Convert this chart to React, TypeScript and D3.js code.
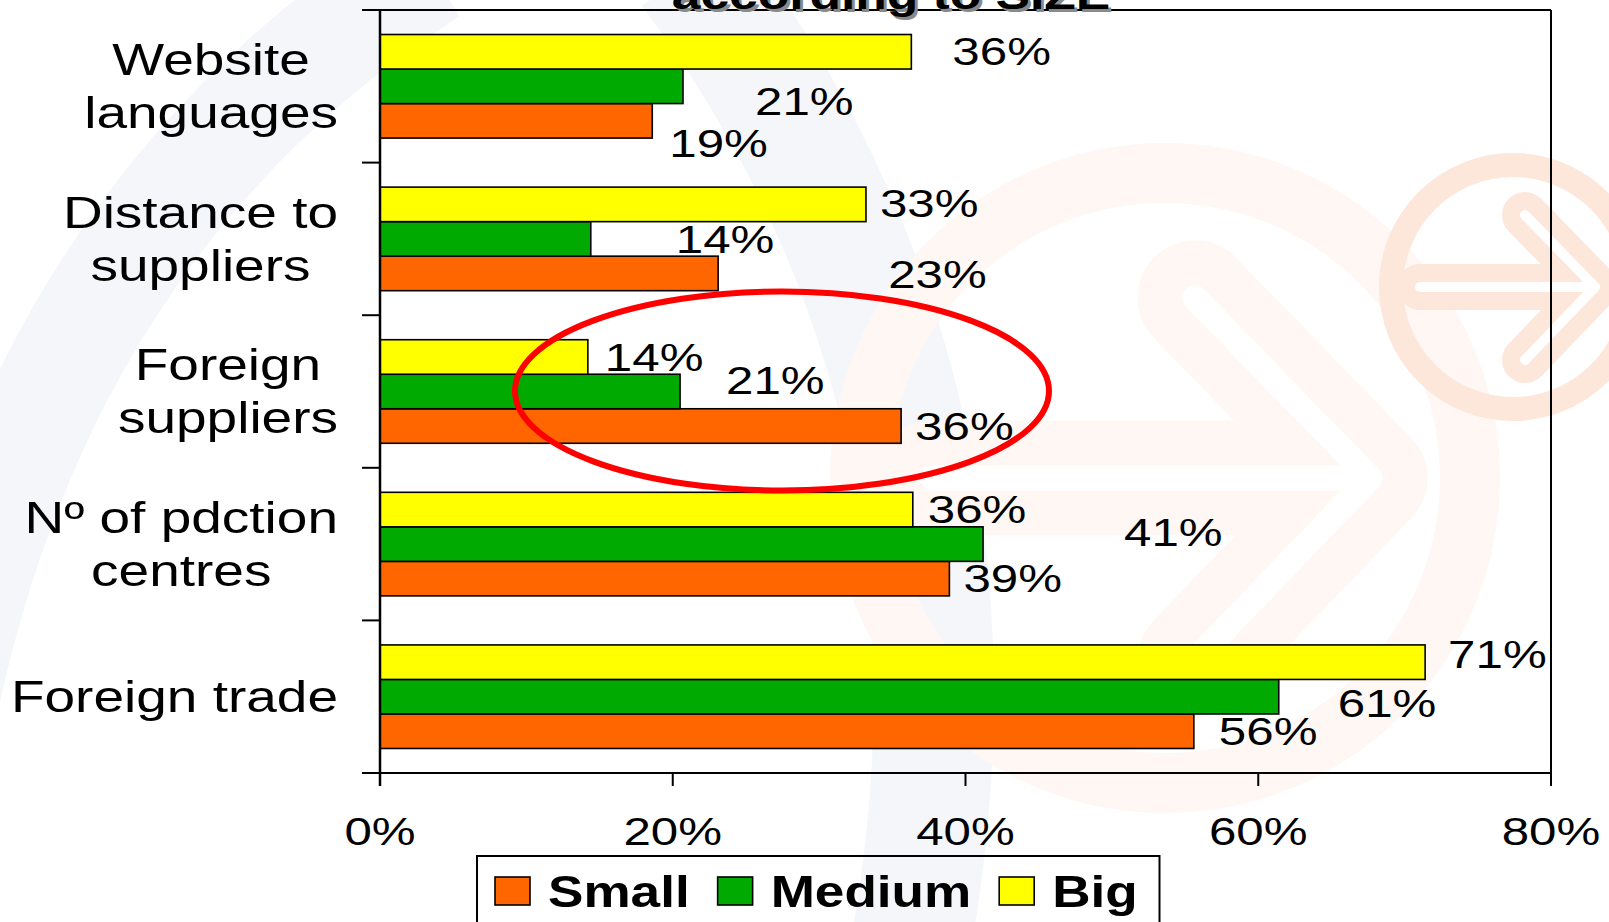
import React, { useEffect, useRef } from "react";
import * as d3 from "d3";

// ---------------- data ----------------
const categories = [
  "Website languages",
  "Distance to suppliers",
  "Foreign suppliers",
  "Nº of pdction centres",
  "Foreign trade",
];
const categoryLines = [
  ["Website", "languages"],
  ["Distance to", "suppliers"],
  ["Foreign", "suppliers"],
  ["Nº of pdction", "centres"],
  ["Foreign trade"],
];
const seriesNames = ["Small", "Medium", "Big"];
const smallValues = [18.6, 23.1, 35.6, 38.9, 55.6];
const mediumValues = [20.7, 14.4, 20.5, 41.2, 61.4];
const bigValues = [36.3, 33.2, 14.2, 36.4, 71.4];
const xTickValues = [0, 20, 40, 60, 80];
const titleText = "according to SIZE";

// manual data-label nudges [dx, dy] in px (as placed in the original)
const smallLabelNudge = [[17, 22], [170, 1], [14, 0], [14, 0], [25, 0]];
const mediumLabelNudge = [[72, 15], [85, 0], [46, -11], [141, -12], [59, 7]];
const bigLabelNudge = [[41, -1], [14, -1], [17, 0], [15, 0], [23, -8]];

const seriesColors: Record<string, string> = {
  Small: "#ff6600",
  Medium: "#00aa00",
  Big: "#ffff00",
};

const W = 1609;
const H = 922;
const FONT = "'Liberation Sans', Arial, Helvetica, sans-serif";

export default function App() {
  const ref = useRef<SVGSVGElement | null>(null);

  useEffect(() => {
    const svg = d3.select(ref.current);
    svg.selectAll("*").remove();

    const left = 380, right = 1551, top = 10, bottom = 773;

    const x = d3.scaleLinear().domain([0, 80]).range([left, right]);
    const y = d3.scaleBand<string>().domain(categories).range([top, bottom]).padding(0);
    const sub = d3
      .scaleBand<string>()
      .domain(["Big", "Medium", "Small"])
      .range([0, y.bandwidth()])
      .paddingInner(0)
      .paddingOuter(0.71);

    // ---------- background watermark ----------
    const bg = svg.append("g");
    bg.append("path")
      .attr("d", "M -60 720 Q 40 220 430 -30")
      .attr("fill", "none")
      .attr("stroke", "#f4f6fa")
      .attr("stroke-width", 110);
    bg.append("path")
      .attr("d", "M 690 -30 Q 1010 400 910 950")
      .attr("fill", "none")
      .attr("stroke", "#f5f6fa")
      .attr("stroke-width", 120);

    const logo = (cx: number, cy: number, s: number, col: string) => {
      const g = bg.append("g");
      g.append("circle")
        .attr("cx", cx).attr("cy", cy).attr("r", 122 * s)
        .attr("fill", "none").attr("stroke", col).attr("stroke-width", 24 * s);
      const shaft = `M ${cx - 93 * s} ${cy} L ${cx + 80 * s} ${cy}`;
      const chev = `M ${cx + 12 * s} ${cy - 72 * s} L ${cx + 82 * s} ${cy} L ${cx + 12 * s} ${cy + 73 * s}`;
      [shaft, chev].forEach((d) => {
        g.append("path").attr("d", d).attr("fill", "none").attr("stroke", col)
          .attr("stroke-width", 46 * s).attr("stroke-linecap", "round").attr("stroke-linejoin", "round");
      });
      [shaft, chev].forEach((d) => {
        g.append("path").attr("d", d).attr("fill", "none").attr("stroke", "#ffffff")
          .attr("stroke-width", 10 * s).attr("stroke-linecap", "round").attr("stroke-linejoin", "round");
      });
    };
    logo(1165, 478, 2.5, "#fef7f3");
    logo(1513, 287, 1, "#fde6da");

    // ---------- bars ----------
    const seriesValues: Record<string, number[]> = {
      Small: smallValues,
      Medium: mediumValues,
      Big: bigValues,
    };
    const nudges: Record<string, number[][]> = {
      Small: smallLabelNudge,
      Medium: mediumLabelNudge,
      Big: bigLabelNudge,
    };

    const barsG = svg.append("g");
    seriesNames.forEach((s) => {
      barsG
        .selectAll(`rect.${s}`)
        .data(seriesValues[s])
        .join("rect")
        .attr("x", x(0))
        .attr("y", (_, i) => (y(categories[i]) as number) + (sub(s) as number))
        .attr("width", (d) => x(d) - x(0))
        .attr("height", sub.bandwidth())
        .attr("fill", seriesColors[s])
        .attr("stroke", "#000")
        .attr("stroke-width", 1.6);
    });

    // ---------- axis frame ----------
    const axG = svg.append("g").attr("stroke", "#000").attr("fill", "none");
    axG.append("line").attr("x1", left).attr("x2", right).attr("y1", top).attr("y2", top).attr("stroke-width", 2);
    axG.append("line").attr("x1", right).attr("x2", right).attr("y1", top).attr("y2", bottom + 13).attr("stroke-width", 2);
    axG.append("line").attr("x1", left).attr("x2", right).attr("y1", bottom).attr("y2", bottom).attr("stroke-width", 2);
    axG.append("line").attr("x1", left).attr("x2", left).attr("y1", top).attr("y2", bottom + 13).attr("stroke-width", 2.5);
    const boundaries = categories.map((c) => y(c) as number).concat([bottom]);
    boundaries.forEach((b) => {
      axG.append("line").attr("x1", left - 18).attr("x2", left).attr("y1", b).attr("y2", b).attr("stroke-width", 2);
    });
    xTickValues.forEach((t) => {
      axG.append("line").attr("x1", x(t)).attr("x2", x(t)).attr("y1", bottom).attr("y2", bottom + 13).attr("stroke-width", 2);
    });

    const stretchText = (
      g: any,
      tx: number,
      ty: number,
      str: string,
      size: number,
      sx: number,
      anchor: string,
      weight = "normal",
      fill = "#000"
    ) =>
      g
        .append("text")
        .attr("transform", `translate(${tx},${ty}) scale(${sx},1)`)
        .attr("text-anchor", anchor)
        .attr("font-family", FONT)
        .attr("font-size", size)
        .attr("font-weight", weight)
        .attr("fill", fill)
        .text(str);

    // x tick labels
    const tickFmt = (v: number) => `${v}%`;
    const tickG = svg.append("g");
    xTickValues.forEach((t) => {
      stretchText(tickG, x(t), 845, tickFmt(t), 38.5, 1.28, "middle");
    });

    // category labels (centered lines, block right-aligned)
    const catSize = 44, catSx = 1.25, lineGap = 53, labelRight = 338;
    const catG = svg.append("g");
    categories.forEach((c, i) => {
      const lines = categoryLines[i];
      const cy = (y(c) as number) + y.bandwidth() / 2;
      const n = lines.length;
      const nodes = lines.map((ln, j) => {
        const base = cy + (j - (n - 1) / 2) * lineGap + 0.35 * catSize;
        return stretchText(catG, 0, base, ln, catSize, catSx, "middle");
      });
      const widths = nodes.map((nd: any) => (nd.node() as SVGTextElement).getComputedTextLength() * catSx);
      const maxW = Math.max(...widths);
      const centerX = labelRight - maxW / 2;
      nodes.forEach((nd: any, j: number) => {
        const base = cy + (j - (n - 1) / 2) * lineGap + 0.35 * catSize;
        nd.attr("transform", `translate(${centerX},${base}) scale(${catSx},1)`);
      });
    });

    // data labels
    const lblG = svg.append("g");
    seriesNames.forEach((s) => {
      seriesValues[s].forEach((v, i) => {
        const [dx, dy] = nudges[s][i];
        const cy = (y(categories[i]) as number) + (sub(s) as number) + sub.bandwidth() / 2;
        stretchText(lblG, x(v) + dx, cy + dy + 0.358 * 38.5, `${Math.round(v)}%`, 38.5, 1.28, "start");
      });
    });

    // red highlight ellipse
    svg.append("ellipse")
      .attr("cx", 782).attr("cy", 391).attr("rx", 267).attr("ry", 99.5)
      .attr("fill", "none").attr("stroke", "#ff0000").attr("stroke-width", 6);

    // title (mostly cut off at top, as in the original slide)
    const tG = svg.append("g");
    stretchText(tG, 894, 12, titleText, 40, 1.29, "middle", "bold", "#8a8a8a");
    stretchText(tG, 891, 9, titleText, 40, 1.29, "middle", "bold", "#000");

    // legend
    const legG = svg.append("g");
    legG.append("rect")
      .attr("x", 477).attr("y", 856).attr("width", 682.5).attr("height", 110)
      .attr("fill", "none").attr("stroke", "#000").attr("stroke-width", 2);
    let lx = 495;
    seriesNames.forEach((s) => {
      legG.append("rect")
        .attr("x", lx).attr("y", 877).attr("width", 35).attr("height", 28)
        .attr("fill", seriesColors[s]).attr("stroke", "#000").attr("stroke-width", 1.6);
      const t = stretchText(legG, lx + 53, 907, s, 45, 1.18, "start", "bold");
      const w = (t.node() as SVGTextElement).getComputedTextLength() * 1.18;
      lx = lx + 53 + w + 28;
    });
  }, []);

  return (
    <div style={{ position: "absolute", left: 0, top: 0, width: W, height: H, background: "#fff" }}>
      <svg ref={ref} width={W} height={H} style={{ display: "block" }} />
    </div>
  );
}
